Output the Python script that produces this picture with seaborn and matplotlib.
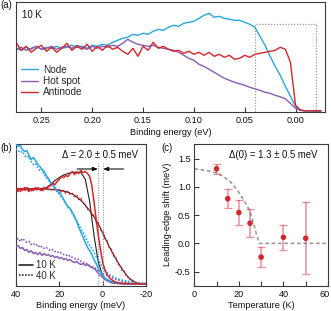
import numpy as np
import pandas as pd
import matplotlib
matplotlib.use("Agg")
import matplotlib.pyplot as plt
import matplotlib.transforms as mtransforms
import seaborn as sns

# ---------------- data: panel (a) ----------------
energy_a = np.round(np.arange(0.275, -0.0251, -0.005), 3)
node = [64, 62, 65, 63, 66, 63, 65, 64, 66, 64, 65, 67, 65, 66, 64, 67, 66, 68, 67, 70,
        72, 74, 75, 78, 77, 79, 78, 81, 83, 82, 85, 87, 86, 89, 90, 91, 94, 97, 99, 95,
        96, 94, 93, 92, 92, 90, 88, 85, 76, 67, 56, 46, 37, 26, 16, 6, 2, 1.5, 1.5, 1, 1]
hotspot = [63, 65, 62, 64, 66, 63, 64, 66, 63, 65, 66, 64, 67, 65, 63, 66, 64, 66, 65, 67,
           66, 69, 73, 70, 68, 67, 66, 67, 65, 64, 63, 62, 60, 57, 54, 52, 48, 46, 43, 40,
           37, 34, 32, 30, 28.5, 27, 25, 23.5, 22, 20, 19, 17, 15.5, 13.5, 9, 4, 2, 1.5, 1.5, 1.5, 1.5]
antinode = [70, 62, 66, 60, 64, 67, 61, 65, 60, 64, 69, 62, 66, 63, 68, 61, 66, 62, 67, 63,
            65, 61, 58, 64, 56, 66, 62, 70, 64, 66, 63, 61, 62, 59, 61, 58, 60, 57, 60, 56,
            58, 55, 57, 53, 54, 57, 55, 58, 59, 60, 61, 62, 65, 63, 50, 7, 2, 1.5, 1.5, 1.5, 1.5]
series_a = ["Node", "Hot spot", "Antinode"]

# ---------------- data: panel (b) ----------------
energy_b = np.arange(40, -21, -1)
red_10K = [96, 94, 97, 95, 98, 96, 94, 97, 95, 98, 96, 97, 95, 98, 97, 99, 100, 102, 101, 104,
           106, 109, 108, 110, 109, 112, 114, 111, 113, 112, 115, 113, 114, 112, 109, 100, 84, 66, 50, 36,
           23, 16, 11, 8, 6, 4.5, 3.5, 3, 2.5, 2, 2, 2, 1.8, 1.8, 1.6, 1.6, 1.5, 1.5, 1.5, 1.5, 1.5]
red_40K = [95, 98, 94, 97, 95, 98, 96, 94, 97, 95, 98, 96, 94, 97, 98, 95, 97, 95, 97, 94,
           96, 93, 95, 92, 94, 91, 92, 89, 90, 86, 87, 82, 81, 76, 77, 71, 70, 64, 62, 56,
           54, 47, 45, 38, 36, 30, 28, 22, 20, 15, 14, 9, 8, 5, 5, 3, 3, 2, 2, 1.5, 1.5]
blue_10K = [141, 139, 140, 136, 134, 135, 130, 126, 128, 125, 121, 119, 116, 114, 110, 107, 103, 101, 98, 94,
            93, 90, 86, 82, 79, 77, 73, 69, 64, 58, 53, 48, 43, 38, 35, 31, 26, 22, 17, 13,
            10, 7.5, 6, 5, 4, 3.5, 3, 2.8, 2.5, 2.3, 2.2, 2, 2, 1.8, 1.8, 1.7, 1.6, 1.5, 1.5, 1.5, 1.5]
blue_40K = [137, 135, 133, 134, 130, 128, 129, 124, 121, 122, 118, 115, 116, 111, 108, 105, 102, 100, 96, 95,
            91, 88, 86, 82, 78, 76, 72, 68, 65, 61, 56, 53, 48, 44, 40, 37, 33, 29, 25, 22,
            18, 15, 13, 11, 10, 8.5, 7.5, 6.5, 6, 5.5, 5, 4.5, 4, 3.5, 3, 2.5, 2, 2, 2, 2, 2]
purple_10K = [39, 40, 37, 38, 35, 36, 33, 35, 32, 33, 31, 33, 30, 32, 30, 31, 29, 30, 28, 29,
              27, 28, 26, 27, 25, 26, 24, 23, 24, 22, 21, 22, 20, 21, 19, 18, 17, 15, 12, 10,
              8, 6, 5, 4, 3.5, 3, 2.5, 2, 2, 2, 2, 1.8, 1.8, 1.7, 1.6, 1.5, 1.5, 1.5, 1.5, 1.5, 1.5]
purple_40K = [45, 47, 44, 47, 45, 43, 44, 41, 42, 40, 41, 38, 39, 37, 38, 36, 35, 36, 34, 33,
              34, 32, 31, 31, 29, 30, 28, 27, 26, 26, 24, 23, 23, 21, 20, 19, 18, 17, 15, 14,
              12, 11, 10, 9, 8, 7, 6.5, 5.5, 5, 4.5, 4, 3.5, 3, 3, 2.5, 2, 2, 2, 2, 2, 2]
energy_fit = np.arange(40, -21, -2)
fit_10K = [96.5, 96.5, 96.5, 96.5, 96.5, 96.5, 97, 98, 101, 105, 108, 110.5, 112, 113, 113.5, 113,
           106, 84, 50, 23, 10, 5, 2.7, 2, 1.8, 1.6, 1.5, 1.5, 1.5, 1.5, 1.5]
fit_40K = [96.5, 96.5, 96.5, 96.5, 96.5, 96.5, 96.5, 96.4, 96.2, 95.8, 95.3, 94.5, 93.2, 91.4, 88.7, 85,
           80.2, 74.8, 68.7, 61.5, 52.5, 43.5, 35, 27, 19.8, 13.2, 7.8, 4.2, 2.4, 1.8, 1.5]

# ---------------- data: panel (c) ----------------
temperature = [10, 15, 20, 25, 30, 40, 50]
shift = [1.32, 0.79, 0.545, 0.356, -0.244, 0.107, 0.089]
shift_err = [0.09, 0.165, 0.225, 0.25, 0.175, 0.225, 0.64]
temp_curve = [0, 5.5, 10, 13, 16, 19, 22, 24.3, 25.7, 27.2, 28.7, 29.2, 60]
shift_curve = [1.317, 1.29, 1.245, 1.185, 1.096, 0.96, 0.78, 0.62, 0.47, 0.26, 0.06, 0.0, 0.0]

# ---------------- style ----------------
sns.set_theme(style="ticks")
plt.rcParams["font.family"] = ["Liberation Sans", "DejaVu Sans"]
FS = 6.6
plt.rcParams.update({
    "font.size": FS, "axes.linewidth": 0.8, "axes.edgecolor": "#3a3a3a",
    "xtick.direction": "in", "ytick.direction": "in",
    "xtick.major.size": 3.5, "ytick.major.size": 3.5,
    "xtick.major.width": 0.8, "ytick.major.width": 0.8,
    "xtick.color": "#3a3a3a", "ytick.color": "#3a3a3a",
    "xtick.labelcolor": "#111111", "ytick.labelcolor": "#111111",
    "xtick.labelsize": FS, "ytick.labelsize": FS,
    "axes.labelsize": FS, "axes.labelcolor": "#111111",
    "xtick.major.pad": 3.0, "ytick.major.pad": 2.5,
})

BLUE = "#27a7e1"
PURPLE = "#8a5db4"
RED = "#d3262c"
GRAY = "#9a9a9a"

W, H = 331, 311
fig = plt.figure(figsize=(W / 100, H / 100), dpi=100)

def rect(x0, y0, x1, y1):
    return [x0 / W, 1 - y1 / H, (x1 - x0) / W, (y1 - y0) / H]

ax_a = fig.add_axes(rect(16, 2, 325, 112.3))
ax_b = fig.add_axes(rect(16, 143.5, 146, 285.5))
ax_c = fig.add_axes(rect(194.3, 143.5, 328, 285.5))

# ---------------- panel (a) ----------------
df_a = pd.DataFrame({"E": np.tile(energy_a, 3),
                     "I": np.concatenate([node, hotspot, antinode]),
                     "cut": np.repeat(series_a, len(energy_a))})
sns.lineplot(data=df_a, x="E", y="I", hue="cut", hue_order=series_a,
             palette=[BLUE, PURPLE, RED], linewidth=1.0, ax=ax_a, legend=False)
box_x = [0.04, 0.04, -0.02, -0.02]
box_y = [0, 88, 88, 0]
ax_a.plot(box_x, box_y, color=GRAY, lw=0.9, ls=(0, (1, 1.3)), zorder=1)
ax_a.set_xlim(0.275, -0.029)
ax_a.set_ylim(0, 110.3)
ax_a.set_xticks([0.25, 0.20, 0.15, 0.10, 0.05, 0.00])
ax_a.set_xticklabels(["0.25", "0.20", "0.15", "0.10", "0.05", "0.00"])
ax_a.set_yticks([])
ax_a.set_xlabel("Binding energy (eV)", labelpad=1.5)
ax_a.set_ylabel("")
ax_a.text(0.02, 0.88, "10 K", transform=ax_a.transAxes, fontsize=FS + 0.3,
          ha="left", va="center", color="#111111")
handles = [plt.Line2D([], [], color=c, lw=1.0) for c in [BLUE, PURPLE, RED]]
ax_a.legend(handles, series_a, loc="upper left", bbox_to_anchor=(0.015, 0.43),
            frameon=False, fontsize=FS + 0.6, handlelength=1.75, handletextpad=0.5,
            labelspacing=0.12, borderaxespad=0, borderpad=0)

# ---------------- panel (b) ----------------
ax_b.plot(energy_fit, fit_40K, color="#222222", lw=0.8, zorder=2)
ax_b.plot(energy_fit, fit_10K, color="#222222", lw=0.8, zorder=2)
for vals, col in [(purple_40K, PURPLE), (blue_40K, BLUE), (red_40K, RED)]:
    sns.lineplot(x=energy_b, y=vals, color=col, lw=1.2, ls=(0, (1, 1)), ax=ax_b, zorder=3)
for vals, col in [(purple_10K, PURPLE), (blue_10K, BLUE), (red_10K, RED)]:
    sns.lineplot(x=energy_b, y=vals, color=col, lw=1.1, ax=ax_b, zorder=4)
for xv in [2.0, 0.0]:
    ax_b.plot([xv, xv], [0, 123], color=GRAY, lw=0.8, ls=(0, (1, 1.2)), zorder=1)
arrow_kw = dict(arrowstyle="-|>,head_length=0.45,head_width=0.18", color="#111111", lw=0.8,
                shrinkA=0, shrinkB=0)
ax_b.annotate("", xy=(2.2, 116.5), xytext=(11.8, 116.5), arrowprops=arrow_kw)
ax_b.annotate("", xy=(-0.2, 116.5), xytext=(-9.6, 116.5), arrowprops=arrow_kw)
ax_b.text(1.3, 130.5, "Δ = 2.0 ± 0.5 meV", ha="center", va="center",
          fontsize=FS + 0.3, color="#111111")
ax_b.set_xlim(40, -20)
ax_b.set_ylim(0, 142)
ax_b.set_xticks([40, 20, 0, -20])
ax_b.set_xticklabels(["40", "20", "0", "-20"])
ax_b.set_yticks([])
ax_b.set_xlabel("Binding energy (meV)", labelpad=1.5)
ax_b.set_ylabel("")
lh = [plt.Line2D([], [], color="#111111", lw=1.1),
      plt.Line2D([], [], color="#111111", lw=1.1, ls=(0, (1, 1)))]
ax_b.legend(lh, ["10 K", "40 K"], loc="lower left", bbox_to_anchor=(0.02, 0.035),
            frameon=False, fontsize=FS + 0.3, handlelength=1.5, handletextpad=0.35,
            labelspacing=0.05, borderaxespad=0, borderpad=0)

# ---------------- panel (c) ----------------
ax_c.plot(temp_curve, shift_curve, color=GRAY, lw=1.2, ls=(0, (2.2, 1.6)), zorder=1)
eb = ax_c.errorbar(temperature, shift, yerr=shift_err, fmt="none",
                   ecolor=(0.86, 0.2, 0.25, 0.55), elinewidth=1.1, capsize=2.6, capthick=0.9,
                   zorder=2)
for cl in eb[1]:
    cl.set_color(RED)
sns.scatterplot(x=temperature, y=shift, color=RED, s=16, edgecolor="none", ax=ax_c, zorder=3)
ax_c.text(35.5, 1.57, "Δ(0) = 1.3 ± 0.5 meV", ha="center", va="center",
          fontsize=FS + 0.3, color="#111111")
ax_c.set_xlim(0, 60)
ax_c.set_ylim(-0.746, 1.767)
ax_c.set_xticks([0, 10, 20, 30, 40, 50, 60])
ax_c.set_xticklabels(["0", "", "20", "", "40", "", "60"])
ax_c.set_yticks([1.5, 1.0, 0.5, 0.0, -0.5])
ax_c.set_yticklabels(["1.5", "1.0", "0.5", "0.0", "-0.5"])
ax_c.set_xlabel("Temperature (K)", labelpad=1.5)
ax_c.set_ylabel("Leading-edge shift (meV)", labelpad=2)
# nudge the last x tick label inward so it stays inside the figure
last = ax_c.get_xticklabels()[-1]
last.set_transform(last.get_transform() + mtransforms.ScaledTranslation(-3.5 / 100, 0, fig.dpi_scale_trans))

for ax in (ax_a, ax_b, ax_c):
    for s in ax.spines.values():
        s.set_visible(True)
        s.set_color("#3a3a3a")

fig.text(0.0 / W, 1 - 5 / H, "(a)", ha="left", va="center", fontsize=FS + 0.3, color="#111111")
fig.text(0.0 / W, 1 - 148 / H, "(b)", ha="left", va="center", fontsize=FS + 0.3, color="#111111")
fig.text(161 / W, 1 - 148 / H, "(c)", ha="left", va="center", fontsize=FS + 0.3, color="#111111")

fig.savefig("out.png", dpi=100)
